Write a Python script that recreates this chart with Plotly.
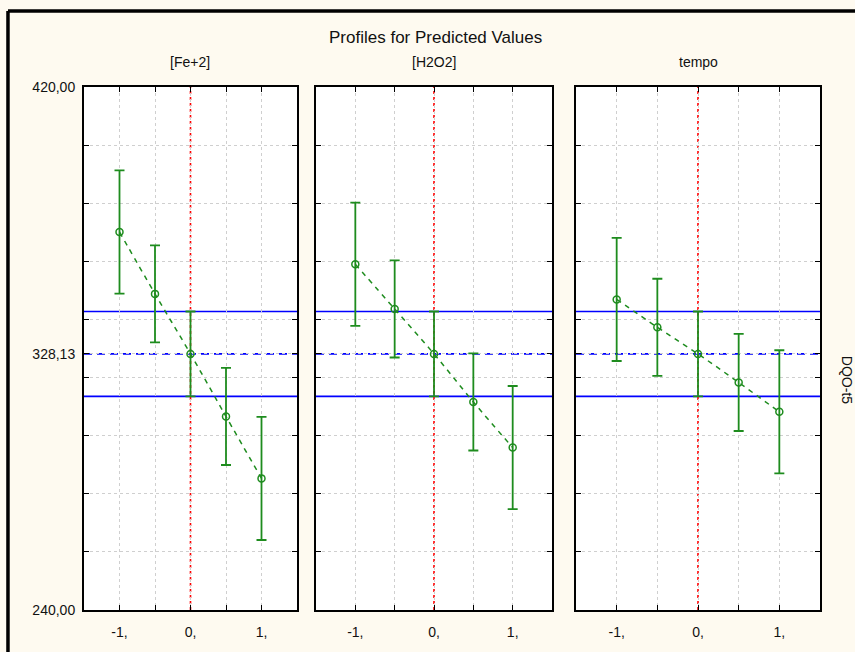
import plotly.graph_objects as go
from plotly.subplots import make_subplots

# ---- data ----
levels = [-1, -0.5, 0, 0.5, 1]
panel_titles = ["[Fe+2]", "[H2O2]", "tempo"]
fe_pred = [370.1, 348.8, 328.13, 306.6, 285.3]
h2o2_pred = [359.0, 343.6, 328.13, 311.6, 295.9]
tempo_pred = [346.9, 337.3, 328.13, 318.3, 308.2]
ci_half = [21.2, 16.7, 14.6, 16.7, 21.2]
mean_value = 328.13
mean_ci_low = 313.53
mean_ci_high = 342.73
x_tick_vals = [-1, -0.5, 0, 0.5, 1]
x_tick_text = ["-1,", "", "0,", "", "1,"]
y_grid_vals = [240, 260, 280, 300, 320, 340, 360, 380, 400, 420]
y_label_map = {240: "240,00", 420: "420,00"}
y_min, y_max = 240, 420
chart_title = "Profiles for Predicted Values"
y_title = "DQO-t5"

series = [fe_pred, h2o2_pred, tempo_pred]

GREEN = "#1E8C1E"
FONT = "Liberation Sans, Arial, sans-serif"

fig = make_subplots(rows=1, cols=3)

domains = [[0.0, 0.2894], [0.3152, 0.6359], [0.6685, 1.0]]

for i, vals in enumerate(series):
    col = i + 1
    fig.add_trace(go.Scatter(
        x=levels, y=vals, mode="lines+markers",
        line=dict(color=GREEN, width=1.5, dash="5px,5px", shape="spline"),
        marker=dict(symbol="circle-open", size=7, color=GREEN, line=dict(width=1.5, color=GREEN)),
        error_y=dict(type="data", array=ci_half, visible=True, color=GREEN, thickness=1.8, width=5),
        showlegend=False, cliponaxis=False, hoverinfo="skip",
    ), row=1, col=col)

    xa = "x" if i == 0 else f"x{col}"
    ya = "y" if i == 0 else f"y{col}"
    for yv, dash in [(mean_ci_high, "solid"), (mean_value, "8px,5px"), (mean_ci_low, "solid")]:
        fig.add_shape(type="line", xref=xa, yref=ya, x0=-1.5, x1=1.5, y0=yv, y1=yv,
                      line=dict(color="#0000FF", width=1.7, dash=dash), layer="below")
    fig.add_shape(type="line", xref=xa, yref=ya, x0=0, x1=0, y0=y_min, y1=y_max,
                  line=dict(color="#FF0000", width=1.6, dash="dot"), layer="below")

    tickvals = list(y_grid_vals) + [mean_value]
    ticktext = [y_label_map.get(v, "") for v in y_grid_vals] + ["328,13"]
    fig.update_xaxes(row=1, col=col, domain=domains[i], range=[-1.5, 1.5],
                     tickvals=x_tick_vals, ticktext=x_tick_text,
                     showgrid=True, gridcolor="#CFCFCF", griddash="dot", gridwidth=1,
                     zeroline=False, showline=True, linecolor="black", linewidth=2,
                     mirror="ticks", ticks="inside", ticklen=5, tickcolor="black",
                     tickfont=dict(family=FONT, size=14, color="#111"),
                     ticklabelstandoff=8)
    fig.update_yaxes(row=1, col=col, range=[y_min, y_max],
                     tickvals=tickvals, ticktext=ticktext, showticklabels=(i == 0),
                     showgrid=True, gridcolor="#CFCFCF", griddash="dot", gridwidth=1,
                     zeroline=False, showline=True, linecolor="black", linewidth=2,
                     mirror="ticks", ticks="inside", ticklen=5, tickcolor="black",
                     tickfont=dict(family=FONT, size=14, color="#111"),
                     ticklabelstandoff=4)

    dmid = (domains[i][0] + domains[i][1]) / 2
    fig.add_annotation(text=panel_titles[i], xref="paper", yref="paper", x=dmid, y=1.0478,
                       showarrow=False, font=dict(family=FONT, size=14, color="#111"),
                       xanchor="center", yanchor="middle")

fig.add_annotation(text=chart_title, xref="paper", yref="paper", x=0.478, y=1.0956,
                   showarrow=False, font=dict(family=FONT, size=17, color="#111"),
                   xanchor="center", yanchor="middle")
fig.add_annotation(text=y_title, xref="paper", yref="paper", x=1.0367, y=0.44,
                   showarrow=False, textangle=90, font=dict(family=FONT, size=14, color="#111"),
                   xanchor="center", yanchor="middle")

# outer frame (left and top edges visible)
fig.add_shape(type="line", xref="paper", yref="paper", x0=-0.1033, x1=-0.1033, y0=-0.2, y1=1.1453,
              line=dict(color="black", width=3.5))
fig.add_shape(type="line", xref="paper", yref="paper", x0=-0.1033, x1=1.2, y0=1.1453, y1=1.1453,
              line=dict(color="black", width=3.5))

fig.update_layout(
    width=855, height=652,
    margin=dict(l=84, r=35, t=87, b=42),
    paper_bgcolor="#FEFAF0", plot_bgcolor="white",
    font=dict(family=FONT),
    hovermode=False,
)

fig.write_html("out.html", config={"displayModeBar": False},
               post_script="document.body.style.margin='0';document.body.style.padding='0';document.body.style.overflow='hidden';")
